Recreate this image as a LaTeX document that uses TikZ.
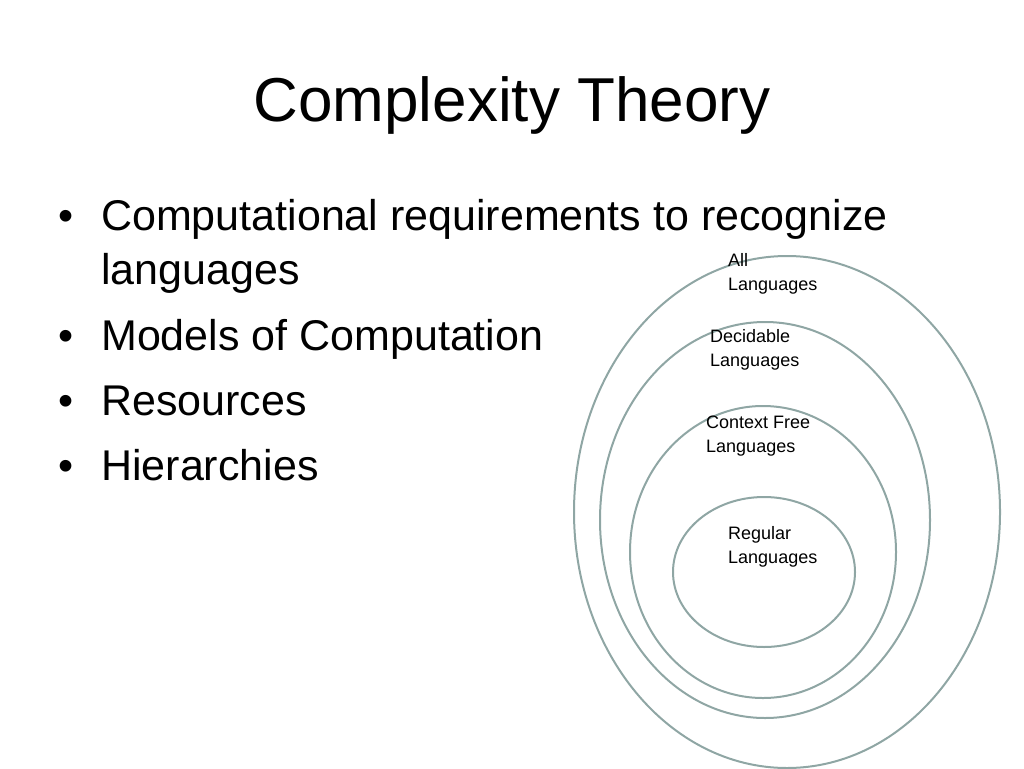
\documentclass[tikz,border=0pt]{standalone}
\usepackage{fontspec}
\setmainfont{Liberation Sans}
\begin{document}
\begin{tikzpicture}[x=1pt,y=-1pt,
  ring/.style={draw=ringc,line width=2pt},
  lab/.style={anchor=base west,font=\fontsize{18}{24}\selectfont,align=left,inner sep=0pt},
  bul/.style={anchor=base west,font=\fontsize{43}{54}\selectfont,inner sep=0pt}]
\definecolor{ringc}{HTML}{8FA6A4}
\useasboundingbox (0,0) rectangle (1024,768);
\clip (0,0) rectangle (1024,768);
\node[font=\fontsize{62}{70}\selectfont,anchor=base] (title) at (512,121) {Complexity Theory};
\draw[ring] (787,512) ellipse [x radius=213,y radius=256];
\draw[ring] (765,520) ellipse [x radius=165,y radius=198];
\draw[ring] (763,552) ellipse [x radius=133,y radius=146];
\draw[ring] (764,572) ellipse [x radius=91,y radius=75];
\foreach \y/\t/\n in {230/{Computational requirements to recognize}/b1,350/{Models of Computation}/b2,415/{Resources}/b3,480/{Hierarchies}/b4}{
  \node[bul] at (58,\y) {•};
  \node[bul] (\n) at (101,\y) {\t};
}
\node[bul] (b1b) at (101,284) {languages};
\node[lab] (l1) at (728,290) {All\\Languages};
\node[lab] (l2) at (710,366) {Decidable\\Languages};
\node[lab] (l3) at (706,452) {Context Free\\Languages};
\node[lab] (l4) at (728,563) {Regular\\Languages};
\end{tikzpicture}
\end{document}
